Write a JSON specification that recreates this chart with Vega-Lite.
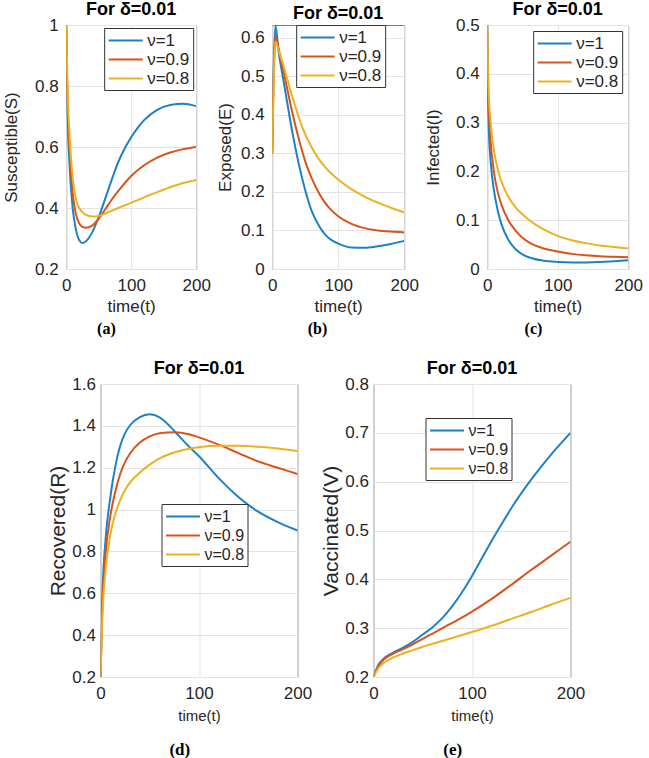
{
  "$schema": "https://vega.github.io/schema/vega-lite/v6.json",
  "padding": {"left": 2, "top": 0, "right": 2, "bottom": 0},
  "datasets": {
    "S": [
      {"t":0,"nu":"ν=1","v":1},{"t":2,"nu":"ν=1","v":0.72},{"t":5,"nu":"ν=1","v":0.55},{"t":10,"nu":"ν=1","v":0.4},{"t":15,"nu":"ν=1","v":0.33},{"t":20,"nu":"ν=1","v":0.295},{"t":25,"nu":"ν=1","v":0.285},{"t":30,"nu":"ν=1","v":0.29},{"t":40,"nu":"ν=1","v":0.32},{"t":50,"nu":"ν=1","v":0.37},{"t":60,"nu":"ν=1","v":0.43},{"t":70,"nu":"ν=1","v":0.492},{"t":80,"nu":"ν=1","v":0.55},{"t":90,"nu":"ν=1","v":0.595},{"t":100,"nu":"ν=1","v":0.632},{"t":110,"nu":"ν=1","v":0.663},{"t":120,"nu":"ν=1","v":0.688},{"t":140,"nu":"ν=1","v":0.722},{"t":160,"nu":"ν=1","v":0.738},{"t":180,"nu":"ν=1","v":0.742},{"t":200,"nu":"ν=1","v":0.734},
      {"t":0,"nu":"ν=0.9","v":1},{"t":2,"nu":"ν=0.9","v":0.76},{"t":5,"nu":"ν=0.9","v":0.6},{"t":10,"nu":"ν=0.9","v":0.45},{"t":15,"nu":"ν=0.9","v":0.38},{"t":20,"nu":"ν=0.9","v":0.35},{"t":25,"nu":"ν=0.9","v":0.338},{"t":30,"nu":"ν=0.9","v":0.335},{"t":40,"nu":"ν=0.9","v":0.342},{"t":50,"nu":"ν=0.9","v":0.365},{"t":60,"nu":"ν=0.9","v":0.395},{"t":70,"nu":"ν=0.9","v":0.427},{"t":80,"nu":"ν=0.9","v":0.455},{"t":100,"nu":"ν=0.9","v":0.505},{"t":120,"nu":"ν=0.9","v":0.54},{"t":140,"nu":"ν=0.9","v":0.565},{"t":160,"nu":"ν=0.9","v":0.582},{"t":180,"nu":"ν=0.9","v":0.593},{"t":200,"nu":"ν=0.9","v":0.6},
      {"t":0,"nu":"ν=0.8","v":1},{"t":2,"nu":"ν=0.8","v":0.8},{"t":5,"nu":"ν=0.8","v":0.65},{"t":10,"nu":"ν=0.8","v":0.5},{"t":15,"nu":"ν=0.8","v":0.43},{"t":20,"nu":"ν=0.8","v":0.4},{"t":30,"nu":"ν=0.8","v":0.378},{"t":40,"nu":"ν=0.8","v":0.372},{"t":50,"nu":"ν=0.8","v":0.374},{"t":60,"nu":"ν=0.8","v":0.382},{"t":80,"nu":"ν=0.8","v":0.4},{"t":100,"nu":"ν=0.8","v":0.417},{"t":120,"nu":"ν=0.8","v":0.435},{"t":140,"nu":"ν=0.8","v":0.452},{"t":160,"nu":"ν=0.8","v":0.468},{"t":180,"nu":"ν=0.8","v":0.482},{"t":200,"nu":"ν=0.8","v":0.492}
    ],
    "E": [
      {"t":0,"nu":"ν=1","v":0.3},{"t":2,"nu":"ν=1","v":0.5},{"t":5,"nu":"ν=1","v":0.632},{"t":10,"nu":"ν=1","v":0.56},{"t":15,"nu":"ν=1","v":0.51},{"t":20,"nu":"ν=1","v":0.46},{"t":30,"nu":"ν=1","v":0.36},{"t":40,"nu":"ν=1","v":0.275},{"t":50,"nu":"ν=1","v":0.205},{"t":60,"nu":"ν=1","v":0.15},{"t":70,"nu":"ν=1","v":0.115},{"t":80,"nu":"ν=1","v":0.09},{"t":90,"nu":"ν=1","v":0.075},{"t":100,"nu":"ν=1","v":0.066},{"t":120,"nu":"ν=1","v":0.056},{"t":140,"nu":"ν=1","v":0.055},{"t":160,"nu":"ν=1","v":0.059},{"t":180,"nu":"ν=1","v":0.065},{"t":200,"nu":"ν=1","v":0.073},
      {"t":0,"nu":"ν=0.9","v":0.3},{"t":2,"nu":"ν=0.9","v":0.48},{"t":5,"nu":"ν=0.9","v":0.605},{"t":10,"nu":"ν=0.9","v":0.57},{"t":15,"nu":"ν=0.9","v":0.53},{"t":20,"nu":"ν=0.9","v":0.49},{"t":30,"nu":"ν=0.9","v":0.41},{"t":40,"nu":"ν=0.9","v":0.34},{"t":50,"nu":"ν=0.9","v":0.28},{"t":60,"nu":"ν=0.9","v":0.235},{"t":70,"nu":"ν=0.9","v":0.2},{"t":80,"nu":"ν=0.9","v":0.172},{"t":90,"nu":"ν=0.9","v":0.152},{"t":100,"nu":"ν=0.9","v":0.137},{"t":120,"nu":"ν=0.9","v":0.117},{"t":140,"nu":"ν=0.9","v":0.106},{"t":160,"nu":"ν=0.9","v":0.1},{"t":180,"nu":"ν=0.9","v":0.097},{"t":200,"nu":"ν=0.9","v":0.095},
      {"t":0,"nu":"ν=0.8","v":0.3},{"t":2,"nu":"ν=0.8","v":0.46},{"t":5,"nu":"ν=0.8","v":0.59},{"t":10,"nu":"ν=0.8","v":0.565},{"t":15,"nu":"ν=0.8","v":0.54},{"t":20,"nu":"ν=0.8","v":0.51},{"t":30,"nu":"ν=0.8","v":0.45},{"t":40,"nu":"ν=0.8","v":0.395},{"t":50,"nu":"ν=0.8","v":0.35},{"t":60,"nu":"ν=0.8","v":0.315},{"t":70,"nu":"ν=0.8","v":0.287},{"t":80,"nu":"ν=0.8","v":0.265},{"t":90,"nu":"ν=0.8","v":0.247},{"t":100,"nu":"ν=0.8","v":0.232},{"t":120,"nu":"ν=0.8","v":0.207},{"t":140,"nu":"ν=0.8","v":0.188},{"t":160,"nu":"ν=0.8","v":0.172},{"t":180,"nu":"ν=0.8","v":0.159},{"t":200,"nu":"ν=0.8","v":0.147}
    ],
    "I": [
      {"t":0,"nu":"ν=1","v":0.5},{"t":1,"nu":"ν=1","v":0.36},{"t":2,"nu":"ν=1","v":0.3},{"t":5,"nu":"ν=1","v":0.22},{"t":10,"nu":"ν=1","v":0.158},{"t":15,"nu":"ν=1","v":0.12},{"t":20,"nu":"ν=1","v":0.093},{"t":30,"nu":"ν=1","v":0.06},{"t":40,"nu":"ν=1","v":0.041},{"t":50,"nu":"ν=1","v":0.03},{"t":60,"nu":"ν=1","v":0.0235},{"t":80,"nu":"ν=1","v":0.017},{"t":100,"nu":"ν=1","v":0.0145},{"t":120,"nu":"ν=1","v":0.0135},{"t":140,"nu":"ν=1","v":0.0135},{"t":160,"nu":"ν=1","v":0.0145},{"t":180,"nu":"ν=1","v":0.016},{"t":200,"nu":"ν=1","v":0.018},
      {"t":0,"nu":"ν=0.9","v":0.5},{"t":1,"nu":"ν=0.9","v":0.39},{"t":2,"nu":"ν=0.9","v":0.34},{"t":5,"nu":"ν=0.9","v":0.26},{"t":10,"nu":"ν=0.9","v":0.195},{"t":15,"nu":"ν=0.9","v":0.158},{"t":20,"nu":"ν=0.9","v":0.133},{"t":30,"nu":"ν=0.9","v":0.1},{"t":40,"nu":"ν=0.9","v":0.079},{"t":50,"nu":"ν=0.9","v":0.064},{"t":60,"nu":"ν=0.9","v":0.054},{"t":80,"nu":"ν=0.9","v":0.042},{"t":100,"nu":"ν=0.9","v":0.036},{"t":120,"nu":"ν=0.9","v":0.031},{"t":140,"nu":"ν=0.9","v":0.028},{"t":160,"nu":"ν=0.9","v":0.026},{"t":180,"nu":"ν=0.9","v":0.025},{"t":200,"nu":"ν=0.9","v":0.024},
      {"t":0,"nu":"ν=0.8","v":0.5},{"t":1,"nu":"ν=0.8","v":0.42},{"t":2,"nu":"ν=0.8","v":0.37},{"t":5,"nu":"ν=0.8","v":0.3},{"t":10,"nu":"ν=0.8","v":0.24},{"t":15,"nu":"ν=0.8","v":0.205},{"t":20,"nu":"ν=0.8","v":0.18},{"t":30,"nu":"ν=0.8","v":0.148},{"t":40,"nu":"ν=0.8","v":0.127},{"t":50,"nu":"ν=0.8","v":0.112},{"t":60,"nu":"ν=0.8","v":0.1},{"t":80,"nu":"ν=0.8","v":0.081},{"t":100,"nu":"ν=0.8","v":0.068},{"t":120,"nu":"ν=0.8","v":0.059},{"t":140,"nu":"ν=0.8","v":0.053},{"t":160,"nu":"ν=0.8","v":0.048},{"t":180,"nu":"ν=0.8","v":0.045},{"t":200,"nu":"ν=0.8","v":0.042}
    ],
    "R": [
      {"t":0,"nu":"ν=1","v":0.2},{"t":2,"nu":"ν=1","v":0.6},{"t":5,"nu":"ν=1","v":0.85},{"t":10,"nu":"ν=1","v":1.06},{"t":15,"nu":"ν=1","v":1.205},{"t":20,"nu":"ν=1","v":1.305},{"t":25,"nu":"ν=1","v":1.365},{"t":30,"nu":"ν=1","v":1.403},{"t":40,"nu":"ν=1","v":1.442},{"t":50,"nu":"ν=1","v":1.455},{"t":60,"nu":"ν=1","v":1.44},{"t":70,"nu":"ν=1","v":1.4},{"t":80,"nu":"ν=1","v":1.35},{"t":90,"nu":"ν=1","v":1.3},{"t":100,"nu":"ν=1","v":1.255},{"t":120,"nu":"ν=1","v":1.15},{"t":140,"nu":"ν=1","v":1.06},{"t":160,"nu":"ν=1","v":0.99},{"t":180,"nu":"ν=1","v":0.94},{"t":200,"nu":"ν=1","v":0.9},
      {"t":0,"nu":"ν=0.9","v":0.2},{"t":2,"nu":"ν=0.9","v":0.55},{"t":5,"nu":"ν=0.9","v":0.78},{"t":10,"nu":"ν=0.9","v":0.97},{"t":15,"nu":"ν=0.9","v":1.085},{"t":20,"nu":"ν=0.9","v":1.17},{"t":25,"nu":"ν=0.9","v":1.228},{"t":30,"nu":"ν=0.9","v":1.268},{"t":40,"nu":"ν=0.9","v":1.32},{"t":50,"nu":"ν=0.9","v":1.35},{"t":60,"nu":"ν=0.9","v":1.365},{"t":75,"nu":"ν=0.9","v":1.37},{"t":90,"nu":"ν=0.9","v":1.36},{"t":100,"nu":"ν=0.9","v":1.345},{"t":120,"nu":"ν=0.9","v":1.31},{"t":140,"nu":"ν=0.9","v":1.27},{"t":160,"nu":"ν=0.9","v":1.23},{"t":180,"nu":"ν=0.9","v":1.2},{"t":200,"nu":"ν=0.9","v":1.17},
      {"t":0,"nu":"ν=0.8","v":0.2},{"t":2,"nu":"ν=0.8","v":0.5},{"t":5,"nu":"ν=0.8","v":0.7},{"t":10,"nu":"ν=0.8","v":0.88},{"t":15,"nu":"ν=0.8","v":0.98},{"t":20,"nu":"ν=0.8","v":1.045},{"t":25,"nu":"ν=0.8","v":1.095},{"t":30,"nu":"ν=0.8","v":1.13},{"t":40,"nu":"ν=0.8","v":1.177},{"t":50,"nu":"ν=0.8","v":1.215},{"t":60,"nu":"ν=0.8","v":1.245},{"t":80,"nu":"ν=0.8","v":1.28},{"t":100,"nu":"ν=0.8","v":1.298},{"t":120,"nu":"ν=0.8","v":1.305},{"t":140,"nu":"ν=0.8","v":1.305},{"t":160,"nu":"ν=0.8","v":1.3},{"t":180,"nu":"ν=0.8","v":1.292},{"t":200,"nu":"ν=0.8","v":1.28}
    ],
    "V": [
      {"t":0,"nu":"ν=1","v":0.2},{"t":5,"nu":"ν=1","v":0.225},{"t":10,"nu":"ν=1","v":0.237},{"t":20,"nu":"ν=1","v":0.25},{"t":30,"nu":"ν=1","v":0.26},{"t":40,"nu":"ν=1","v":0.272},{"t":50,"nu":"ν=1","v":0.287},{"t":60,"nu":"ν=1","v":0.302},{"t":70,"nu":"ν=1","v":0.321},{"t":80,"nu":"ν=1","v":0.345},{"t":90,"nu":"ν=1","v":0.374},{"t":100,"nu":"ν=1","v":0.407},{"t":110,"nu":"ν=1","v":0.443},{"t":120,"nu":"ν=1","v":0.479},{"t":130,"nu":"ν=1","v":0.513},{"t":140,"nu":"ν=1","v":0.546},{"t":160,"nu":"ν=1","v":0.604},{"t":180,"nu":"ν=1","v":0.655},{"t":200,"nu":"ν=1","v":0.7},
      {"t":0,"nu":"ν=0.9","v":0.2},{"t":5,"nu":"ν=0.9","v":0.222},{"t":10,"nu":"ν=0.9","v":0.235},{"t":20,"nu":"ν=0.9","v":0.248},{"t":30,"nu":"ν=0.9","v":0.257},{"t":40,"nu":"ν=0.9","v":0.267},{"t":50,"nu":"ν=0.9","v":0.278},{"t":60,"nu":"ν=0.9","v":0.289},{"t":70,"nu":"ν=0.9","v":0.3},{"t":80,"nu":"ν=0.9","v":0.311},{"t":90,"nu":"ν=0.9","v":0.322},{"t":100,"nu":"ν=0.9","v":0.334},{"t":120,"nu":"ν=0.9","v":0.36},{"t":140,"nu":"ν=0.9","v":0.389},{"t":160,"nu":"ν=0.9","v":0.419},{"t":180,"nu":"ν=0.9","v":0.448},{"t":200,"nu":"ν=0.9","v":0.477},
      {"t":0,"nu":"ν=0.8","v":0.2},{"t":5,"nu":"ν=0.8","v":0.218},{"t":10,"nu":"ν=0.8","v":0.228},{"t":20,"nu":"ν=0.8","v":0.24},{"t":30,"nu":"ν=0.8","v":0.248},{"t":40,"nu":"ν=0.8","v":0.255},{"t":50,"nu":"ν=0.8","v":0.262},{"t":60,"nu":"ν=0.8","v":0.268},{"t":80,"nu":"ν=0.8","v":0.28},{"t":100,"nu":"ν=0.8","v":0.292},{"t":120,"nu":"ν=0.8","v":0.305},{"t":140,"nu":"ν=0.8","v":0.319},{"t":160,"nu":"ν=0.8","v":0.333},{"t":180,"nu":"ν=0.8","v":0.348},{"t":200,"nu":"ν=0.8","v":0.362}
    ]
  },
  "vconcat": [
    {
      "hconcat": [
        {
          "title": {"text": "(a)", "orient": "bottom", "anchor": "middle", "font": "Liberation Serif", "fontSize": 16, "fontWeight": "bold", "offset": 6},
          "vconcat": [{
            "width": 130, "height": 244,
            "title": "For δ=0.01",
            "data": {"name": "S"},
            "mark": {"type": "line", "interpolate": "monotone", "strokeWidth": 2, "clip": true},
            "encoding": {
              "x": {"field": "t", "type": "quantitative", "scale": {"domain": [0, 200], "nice": false}, "axis": {"values": [0, 100, 200], "title": "time(t)"}},
              "y": {"field": "v", "type": "quantitative", "scale": {"domain": [0.2, 1], "nice": false, "zero": false}, "axis": {"values": [0.2, 0.4, 0.6, 0.8, 1], "title": "Susceptible(S)", "titlePadding": 14}},
              "color": {"field": "nu", "type": "nominal", "scale": {"domain": ["ν=1", "ν=0.9", "ν=0.8"], "range": ["#1f80c6", "#d9541a", "#edb120"]}, "legend": {"orient": "top-right", "offset": 3, "title": null}}
            }
          }],
          "resolve": {"scale": {"color": "independent"}, "legend": {"color": "independent"}}
        },
        {
          "title": {"text": "(b)", "orient": "bottom", "anchor": "middle", "font": "Liberation Serif", "fontSize": 16, "fontWeight": "bold", "offset": 6},
          "vconcat": [{
            "width": 132, "height": 244,
            "title": {"text": "For δ=0.01", "offset": 2},
            "data": {"name": "E"},
            "mark": {"type": "line", "interpolate": "monotone", "strokeWidth": 2, "clip": true},
            "encoding": {
              "x": {"field": "t", "type": "quantitative", "scale": {"domain": [0, 200], "nice": false}, "axis": {"values": [0, 100, 200], "title": "time(t)"}},
              "y": {"field": "v", "type": "quantitative", "scale": {"domain": [0, 0.633], "nice": false}, "axis": {"values": [0, 0.1, 0.2, 0.3, 0.4, 0.5, 0.6], "title": "Exposed(E)", "titlePadding": 6}},
              "color": {"field": "nu", "type": "nominal", "scale": {"domain": ["ν=1", "ν=0.9", "ν=0.8"], "range": ["#1f80c6", "#d9541a", "#edb120"]}, "legend": {"orient": "none", "legendX": 24, "legendY": 0, "title": null}}
            }
          }],
          "resolve": {"scale": {"color": "independent"}, "legend": {"color": "independent"}}
        },
        {
          "title": {"text": "(c)", "orient": "bottom", "anchor": "middle", "font": "Liberation Serif", "fontSize": 16, "fontWeight": "bold", "offset": 6},
          "vconcat": [{
            "width": 141, "height": 244,
            "title": "For δ=0.01",
            "data": {"name": "I"},
            "mark": {"type": "line", "interpolate": "monotone", "strokeWidth": 2, "clip": true},
            "encoding": {
              "x": {"field": "t", "type": "quantitative", "scale": {"domain": [0, 200], "nice": false}, "axis": {"values": [0, 100, 200], "title": "time(t)"}},
              "y": {"field": "v", "type": "quantitative", "scale": {"domain": [0, 0.5], "nice": false}, "axis": {"values": [0, 0.1, 0.2, 0.3, 0.4, 0.5], "title": "Infected(I)", "titlePadding": 13}},
              "color": {"field": "nu", "type": "nominal", "scale": {"domain": ["ν=1", "ν=0.9", "ν=0.8"], "range": ["#1f80c6", "#d9541a", "#edb120"]}, "legend": {"orient": "top-right", "offset": 6, "title": null}}
            }
          }],
          "resolve": {"scale": {"color": "independent"}, "legend": {"color": "independent"}}
        }
      ],
      "spacing": 4,
      "resolve": {"scale": {"color": "independent"}, "legend": {"color": "independent"}}
    },
    {
      "hconcat": [
        {
          "title": {"text": "(d)", "orient": "bottom", "anchor": "middle", "font": "Liberation Serif", "fontSize": 17, "fontWeight": "bold", "offset": 18},
          "vconcat": [{
            "width": 197, "height": 293,
            "title": "For δ=0.01",
            "data": {"name": "R"},
            "mark": {"type": "line", "interpolate": "monotone", "strokeWidth": 2, "clip": true},
            "encoding": {
              "x": {"field": "t", "type": "quantitative", "scale": {"domain": [0, 200], "nice": false}, "axis": {"values": [0, 100, 200], "title": "time(t)", "titleFontSize": 15, "titlePadding": 7}},
              "y": {"field": "v", "type": "quantitative", "scale": {"domain": [0.2, 1.6], "nice": false, "zero": false}, "axis": {"values": [0.2, 0.4, 0.6, 0.8, 1, 1.2, 1.4, 1.6], "title": "Recovered(R)", "titleFontSize": 21, "titlePadding": 3, "labelPadding": 5}},
              "color": {"field": "nu", "type": "nominal", "scale": {"domain": ["ν=1", "ν=0.9", "ν=0.8"], "range": ["#1f80c6", "#d9541a", "#edb120"]}, "legend": {"orient": "none", "legendX": 61, "legendY": 120, "title": null, "labelFontSize": 16}}
            }
          }],
          "resolve": {"scale": {"color": "independent"}, "legend": {"color": "independent"}}
        },
        {
          "title": {"text": "(e)", "orient": "bottom", "anchor": "middle", "font": "Liberation Serif", "fontSize": 17, "fontWeight": "bold", "offset": 18},
          "vconcat": [{
            "width": 197, "height": 293,
            "title": "For δ=0.01",
            "data": {"name": "V"},
            "mark": {"type": "line", "interpolate": "monotone", "strokeWidth": 2, "clip": true},
            "encoding": {
              "x": {"field": "t", "type": "quantitative", "scale": {"domain": [0, 200], "nice": false}, "axis": {"values": [0, 100, 200], "title": "time(t)", "titleFontSize": 15, "titlePadding": 7}},
              "y": {"field": "v", "type": "quantitative", "scale": {"domain": [0.2, 0.8], "nice": false, "zero": false}, "axis": {"values": [0.2, 0.3, 0.4, 0.5, 0.6, 0.7, 0.8], "title": "Vaccinated(V)", "titleFontSize": 21, "titlePadding": 3, "labelPadding": 5}},
              "color": {"field": "nu", "type": "nominal", "scale": {"domain": ["ν=1", "ν=0.9", "ν=0.8"], "range": ["#1f80c6", "#d9541a", "#edb120"]}, "legend": {"orient": "none", "legendX": 52, "legendY": 34, "title": null, "labelFontSize": 16}}
            }
          }],
          "resolve": {"scale": {"color": "independent"}, "legend": {"color": "independent"}}
        },
        {
          "width": 16, "height": 293,
          "view": {"stroke": null},
          "data": {"values": []},
          "mark": "point",
          "encoding": {}
        }
      ],
      "spacing": 7,
      "resolve": {"scale": {"color": "independent"}, "legend": {"color": "independent"}}
    }
  ],
  "spacing": 22,
  "center": true,
  "resolve": {"scale": {"color": "independent"}, "legend": {"color": "independent"}},
  "config": {
    "font": "Liberation Sans",
    "background": "white",
    "view": {"stroke": "#7a7a7a", "strokeWidth": 1},
    "axis": {
      "domain": false, "ticks": false, "grid": true, "gridColor": "#e3e3e3",
      "labelFont": "Liberation Sans", "labelFontSize": 17, "labelColor": "#262626", "labelPadding": 8, "labelFlush": false, "labelOverlap": false,
      "titleFont": "Liberation Sans", "titleFontSize": 17, "titleFontWeight": "normal", "titleColor": "#262626", "titlePadding": 5
    },
    "axisY": {"format": ".2~f"},
    "axisX": {"format": ".0f"},
    "title": {"font": "Liberation Sans", "fontSize": 18, "fontWeight": "bold", "color": "#000000", "offset": -3},
    "legend": {
      "labelFont": "Liberation Sans", "labelFontSize": 17, "labelColor": "#262626",
      "symbolType": "M-2,0H2", "symbolStrokeWidth": 2, "symbolSize": 289, "symbolOffset": 9, "labelOffset": 12,
      "strokeColor": "#333333", "fillColor": "#ffffff", "padding": 3, "rowPadding": 1, "cornerRadius": 0
    }
  }
}
